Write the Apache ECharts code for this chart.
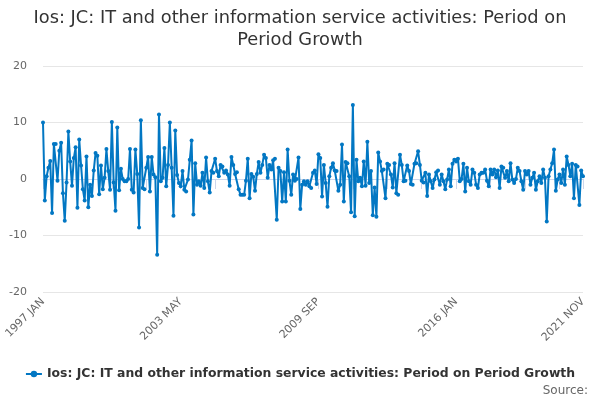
<!DOCTYPE html>
<html>
<head>
<meta charset="utf-8">
<script src="https://cdn.jsdelivr.net/npm/echarts@6/dist/echarts.min.js"></script>
<style>
  html, body { margin: 0; padding: 0; background: #fff; }
  #chart { width: 600px; height: 400px; }
</style>
</head>
<body>
<div id="chart"></div>
<script>
// 标题和系列名
const chartTitle = 'Ios: JC: IT and other information service activities: Period on\nPeriod Growth'
const seriesName = 'Ios: JC: IT and other information service activities: Period on Period Growth'

// 月份标签
const startYear = 1997
const monthNames = ['JAN', 'FEB', 'MAR', 'APR', 'MAY', 'JUN', 'JUL', 'AUG', 'SEP', 'OCT', 'NOV', 'DEC']

// 每月增长率 (1997 JAN - 2021 NOV)
const growth = [
  10, -3.8, 0.5, 2, 3.2, -6, 6.2, 6.2, -0.3, 5, 6.4, -2.5,
  -7.4, -0.6, 8.4, 3.1, -1.2, 3.7, 5.6, -5.1, 7, 2.4, -1.8, -3.8,
  4, -5, -1, -3, 1.5, 4.6, 4.1, -2.7, 2.4, -1.8, 0.2, 5.3,
  1.4, -1.9, 10.1, -0.6, -5.6, 9.1, -2, 1.8, 0, -0.4, -0.4, 0,
  5.3, -1.9, -2.4, 5.2, 0.9, -8.6, 10.4, -1.6, -1.8, 2, 3.9, -2.2,
  3.9, 0.8, 0.3, -13.4, 11.4, -0.4, 0.2, 5.5, -1.3, 2.5, 10, 2,
  -6.5, 8.6, 0.7, -0.7, -1.3, 1.4, -1.9, -2.2, -0.1, 3.4, 6.8, -6.3,
  2.8, -1, -0.4, -1.2, 1.1, -1.6, 3.8, -0.4, -2.4, 1.4, 1.1, 3.6,
  1.4, 0.5, 2.5, 2.2, 1.1, 1.5, 0.8, -1.2, 3.9, 2.5, 0.9, 1.2,
  -1.8, -2.8, -2.8, -2.8, -0.3, 3.6, -3.4, 0.9, 0.4, -2.1, 0.9, 3,
  1.1, 2.5, 4.3, 3.7, 0.2, 2.5, 1.7, 3.3, 3.6, -7.2, 2, 1.4,
  -4, 1.2, -4, 5.2, -0.3, -2.8, 0.8, -0.3, 0, 3.8, -5.3, -1,
  -0.4, -1, -0.4, -1.3, -1.6, 1.1, 1.5, -0.9, 4.4, 3.7, -3.1, 2.5,
  -0.7, -4.9, 0.5, 2, 2.8, 1.5, 1.4, -2.1, -1, 6.1, -4, 3,
  2.8, 0.5, -5.9, 13.1, -6.6, 3.4, -0.4, 0.2, -1.3, 3.1, -1.2, 6.6,
  -0.7, 1.4, -6.4, -1.5, -6.7, 4.7, 3.1, 1.4, 1.7, -3.4, 2.7, 2.5,
  0.8, -1.5, 2.8, -2.5, -2.8, 4.3, 2.5, -0.4, -0.3, 2.4, 1.4, -0.9,
  -1, 2.7, 2.8, 4.9, 2.5, -0.3, -0.6, 1.1, -3, 0.8, -0.4, -1.6,
  -0.1, 1.2, 1.5, -1, 0.8, -0.4, -1.8, -0.1, 1.7, -1.3, 2.7, 3.4,
  3.1, 3.6, -0.4, 0, 2.7, -2.2, 2, -0.4, -1, 1.7, 1.1, -1,
  -1.6, 0.8, 1.1, 1.1, 1.7, -0.3, -1.3, 1.7, 0.8, 1.7, 0.3, 1.5,
  -1.6, 2.2, 2, 0.2, 1.4, -0.4, 2.8, -0.1, -0.7, 0, 2, 1.4,
  -0.4, -1.9, 1.4, 0.8, 1.4, -1, 0.2, 1.1, -1.9, -0.4, 0.5, -0.7,
  1.7, 0.2, -7.5, 0.5, 1.7, 2.8, 5.2, -2.1, -0.1, 0.8, -0.7, 1.7,
  -1, 4, 2.5, 0.5, 2.7, -3.4, 2.5, 2.2, -4.6, 1.5, 0.5
]

const categories = growth.map((v, i) => (startYear + Math.floor(i / 12)) + ' ' + monthNames[i % 12])
const lastIndex = categories.length - 1

const myChart = echarts.init(document.getElementById('chart'))
const option = {
  animation: false,
  textStyle: { fontFamily: 'DejaVu Sans' },
  title: {
    text: chartTitle,
    left: 'center',
    top: 2,
    textStyle: { fontSize: 17.8, fontWeight: 'normal', color: '#333', lineHeight: 22 }
  },
  legend: {
    bottom: 15,
    left: 'center',
    itemWidth: 16,
    itemHeight: 8,
    textStyle: { fontSize: 12.4, fontWeight: 'bold', color: '#333' }
  },
  graphic: [{
    type: 'text',
    right: 12,
    bottom: 3,
    style: { text: 'Source:', fill: '#666', fontSize: 12, fontFamily: 'DejaVu Sans' }
  }],
  grid: { left: 43, right: 17, top: 66, bottom: 108 },
  xAxis: {
    type: 'category',
    data: categories,
    boundaryGap: false,
    axisLine: { lineStyle: { color: '#ccd6eb' } },
    axisTick: {
      length: 10,
      interval: (i) => i % 19 === 0 || i === lastIndex,
      lineStyle: { color: '#ccd6eb' }
    },
    axisLabel: {
      interval: (i) => i % 76 === 0 || i === lastIndex,
      rotate: 45,
      color: '#666',
      fontSize: 11
    }
  },
  yAxis: {
    type: 'value',
    min: -20,
    max: 20,
    interval: 10,
    axisLabel: { color: '#666', fontSize: 11, margin: 16 },
    splitLine: { lineStyle: { color: '#e6e6e6' } }
  },
  series: [{
    name: seriesName,
    type: 'line',
    data: growth,
    color: '#0277c3',
    showAllSymbol: true,
    symbol: 'circle',
    symbolSize: 4,
    lineStyle: { width: 2 }
  }]
}
myChart.setOption(option)
</script>
</body>
</html>
